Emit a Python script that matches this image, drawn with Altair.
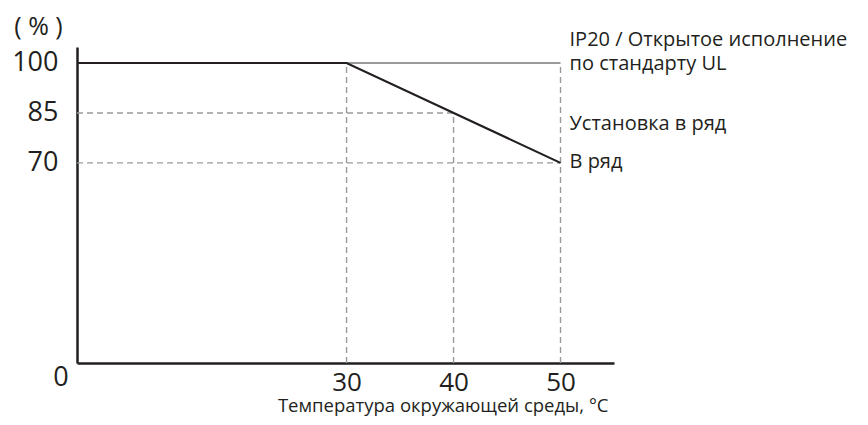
import altair as alt
import pandas as pd

FONT = "Open Sans"
INK = "#231f20"
GREY = "#9a9a9a"

# axis range (schematic)
x_domain = [4.8, 55.0]
y_domain = [9.9, 104.8]

# derating curve
curve_x = [4.8, 30, 50]
curve_y = [100, 100, 70]

# dashed guide lines
guide_x = [4.8, 4.8, 30, 40, 50]
guide_x2 = [40, 50, 30, 40, 50]
guide_y = [85, 70, 9.9, 9.9, 9.9]
guide_y2 = [85, 70, 100, 85, 100]

# grey solid reference (IP20 / open type)
ref_x = [30]
ref_x2 = [50]
ref_y = [100]

# labels on the right
label_text = ["IP20 / Открытое исполнение", "по стандарту UL", "Установка в ряд", "В ряд"]
label_x = [50, 50, 50, 50]
label_y = [106.9, 99.6, 81.8, 70.3]

x_ticks = [30, 40, 50]
y_ticks = [70, 85, 100]

curve = pd.DataFrame({"x": curve_x, "y": curve_y})
guides = pd.DataFrame({"x": guide_x, "x2": guide_x2, "y": guide_y, "y2": guide_y2})
ref = pd.DataFrame({"x": ref_x, "x2": ref_x2, "y": ref_y})
labels = pd.DataFrame({"x": label_x, "y": label_y, "t": label_text})
zero = pd.DataFrame({"x": [x_domain[0]], "y": [y_domain[0]], "t": ["0"]})

xs = alt.Scale(domain=x_domain, nice=False, zero=False)
ys = alt.Scale(domain=y_domain, nice=False, zero=False)

x_axis = alt.Axis(
    values=x_ticks, ticks=False, tickSize=0, grid=False, domainColor=INK, domainWidth=2.5,
    labelFont=FONT, labelFontSize=26, labelColor=INK, labelPadding=6,
    title="Температура окружающей среды, °C", titleFont=FONT, titleFontSize=18.5,
    titleFontWeight="normal", titleColor=INK, titleAlign="right", titleBaseline="alphabetic",
    titleAnchor="end", titleX=531, titleY=48,
)
y_axis = alt.Axis(
    values=y_ticks, ticks=False, tickSize=0, grid=False, domainColor=INK, domainWidth=2.5,
    labelFont=FONT, labelFontSize=27, labelColor=INK, labelPadding=19,
    title="(  %  )", titleFont=FONT, titleFontSize=25, titleFontWeight="normal", titleColor=INK,
    titleAngle=0, titleAlign="center", titleBaseline="middle", titleX=-39, titleY=-21,
)

guide_layer = alt.Chart(guides).mark_rule(color=GREY, strokeWidth=1.4, strokeDash=[6, 4]).encode(
    x=alt.X("x:Q", scale=xs, axis=x_axis), x2="x2:Q",
    y=alt.Y("y:Q", scale=ys, axis=y_axis), y2="y2:Q",
)
ref_layer = alt.Chart(ref).mark_rule(color=GREY, strokeWidth=2).encode(
    x=alt.X("x:Q", scale=xs), x2="x2:Q", y=alt.Y("y:Q", scale=ys)
)
curve_layer = alt.Chart(curve).mark_line(color=INK, strokeWidth=2.2).encode(
    x=alt.X("x:Q", scale=xs), y=alt.Y("y:Q", scale=ys)
)
label_layer = alt.Chart(labels).mark_text(
    align="left", baseline="middle", dx=9, font=FONT, fontSize=20, color=INK
).encode(x=alt.X("x:Q", scale=xs), y=alt.Y("y:Q", scale=ys), text="t:N")
zero_layer = alt.Chart(zero).mark_text(
    align="center", baseline="middle", dx=-16, dy=15, font=FONT, fontSize=27, color=INK
).encode(x=alt.X("x:Q", scale=xs), y=alt.Y("y:Q", scale=ys), text="t:N")

chart = alt.layer(guide_layer, ref_layer, curve_layer, label_layer, zero_layer).properties(
    width=537, height=316,
    autosize=alt.AutoSizeParams(type="none"),
    padding={"left": 69, "top": 39, "right": 246, "bottom": 54},
    background="white",
).configure_view(stroke=None)

chart.save("out.html", embed_options={"renderer": "svg", "actions": False})
